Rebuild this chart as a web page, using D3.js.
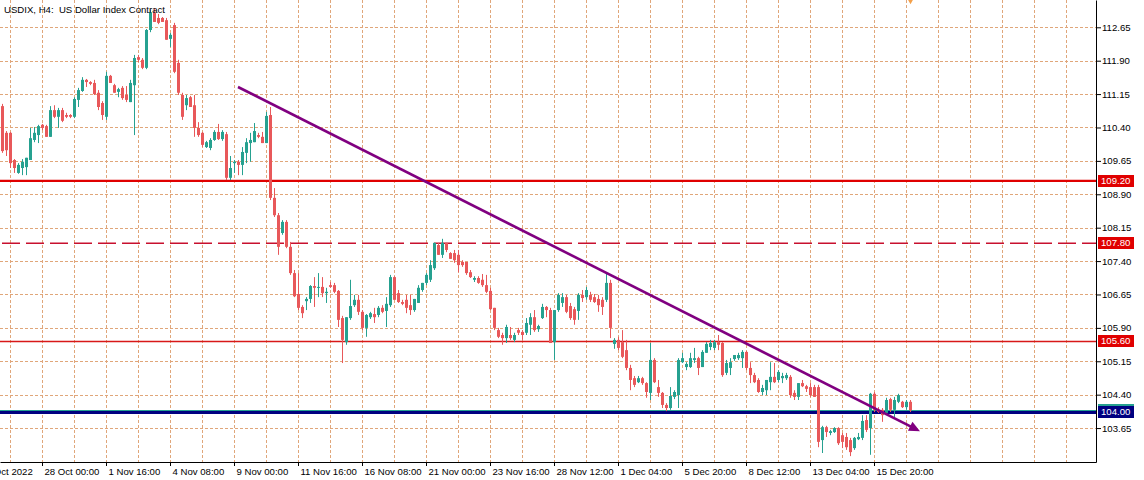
<!DOCTYPE html>
<html>
<head>
<meta charset="utf-8">
<title>USDIX H4</title>
<script src="https://d3js.org/d3.v7.min.js"></script>
<style>
  body { margin: 0; background: #fff; }
  svg { display: block; font-family: "Liberation Sans", Arial, sans-serif; font-size: 9.6px; }
</style>
</head>
<body>
<svg width="1144" height="480"></svg>
<script>
// H4 bars, [open, high, low, close], oldest first
const ohlc = [
  [110.88,110.93,109.83,109.87],[110.28,110.32,109.76,109.89],[110.28,110.30,109.49,109.60],[109.67,109.69,109.38,109.49],
  [109.38,109.60,109.36,109.56],[109.49,109.69,109.33,109.63],[109.51,109.72,109.33,109.72],[109.67,110.39,109.67,110.16],
  [110.12,110.41,110.07,110.28],[110.23,110.46,110.05,110.43],[110.46,110.48,110.34,110.39],[110.43,110.46,110.19,110.19],
  [110.19,110.88,110.19,110.79],[110.79,110.90,110.61,110.64],[110.64,110.84,110.39,110.79],[110.79,110.84,110.52,110.55],
  [110.68,110.73,110.61,110.64],[110.68,110.70,110.61,110.64],[110.64,111.08,110.61,111.04],[111.02,111.29,110.86,111.24],
  [111.22,111.53,111.20,111.47],[111.47,111.49,111.31,111.42],[111.42,111.44,111.35,111.38],[111.40,111.47,111.13,111.15],
  [111.18,111.24,110.79,110.86],[110.95,110.99,110.57,110.68],[110.64,111.65,110.57,111.56],[111.56,111.58,111.40,111.40],
  [111.35,111.38,111.18,111.18],[111.20,111.29,111.08,111.26],[111.29,111.33,111.02,111.06],[111.13,111.33,110.97,111.02],
  [110.97,111.47,110.97,111.40],[111.35,112.03,110.23,111.96],[111.98,112.03,111.87,111.92],[111.92,111.96,111.71,111.74],
  [111.74,112.61,111.71,112.59],[112.59,113.04,112.54,112.99],[112.97,113.08,112.77,112.77],[112.86,112.95,112.72,112.75],
  [112.86,112.88,112.77,112.77],[112.81,112.86,112.37,112.37],[112.39,112.52,112.21,112.48],[112.70,112.75,111.62,111.65],
  [111.85,111.92,111.13,111.18],[111.13,111.18,110.57,110.64],[110.90,111.13,110.79,111.06],[111.08,111.11,110.86,110.86],
  [110.90,111.13,110.19,110.39],[110.39,110.52,110.19,110.23],[110.28,110.30,109.96,110.01],[109.96,110.10,109.94,110.07],
  [109.94,110.16,109.89,110.12],[110.12,110.34,110.10,110.30],[110.30,110.48,110.12,110.14],[110.14,110.34,110.10,110.30],
  [110.25,110.30,109.22,109.27],[109.27,109.76,109.22,109.49],[109.60,109.67,109.38,109.63],[109.63,109.67,109.33,109.56],
  [109.56,109.96,109.33,109.85],[109.83,110.16,109.60,110.07],[110.05,110.28,109.63,110.12],[110.07,110.50,110.07,110.32],
  [110.23,110.28,110.16,110.19],[110.19,110.30,110.05,110.05],[110.05,110.75,110.05,110.66],[110.68,110.86,108.77,108.82],
  [108.82,109.04,108.39,108.43],[108.43,108.48,107.54,107.72],[108.03,108.32,107.99,108.28],[108.28,108.32,107.69,107.72],
  [107.72,107.83,107.09,107.13],[107.13,107.20,106.59,106.61],[106.66,107.13,106.30,106.35],[106.37,106.41,106.12,106.23],
  [106.50,106.59,106.30,106.55],[106.55,106.86,106.46,106.84],[106.84,107.04,106.37,106.80],[106.80,107.13,106.59,106.82],
  [106.82,107.04,106.59,106.68],[106.68,106.80,106.46,106.71],[106.86,106.93,106.80,106.82],[106.86,106.91,106.68,106.71],
  [106.73,106.75,105.92,106.08],[106.12,106.17,105.11,105.63],[105.58,106.14,105.52,106.14],[106.12,106.98,106.08,106.39],
  [106.41,106.64,106.37,106.53],[106.53,106.64,106.19,106.26],[106.26,106.30,105.85,105.90],[105.90,106.21,105.70,106.19],
  [106.14,106.26,106.10,106.23],[106.21,106.35,106.01,106.14],[106.19,106.39,106.14,106.35],[106.35,106.41,106.23,106.26],
  [106.28,106.59,105.92,106.44],[106.41,107.09,106.37,107.04],[107.04,107.06,106.53,106.53],[106.68,106.75,106.46,106.48],
  [106.48,106.53,106.41,106.44],[106.53,106.64,106.23,106.35],[106.41,106.64,106.19,106.30],[106.30,106.55,106.26,106.55],
  [106.46,106.86,106.46,106.80],[106.75,106.91,106.71,106.91],[106.91,107.13,106.86,107.09],[106.98,107.42,106.93,107.31],
  [107.24,107.81,107.20,107.81],[107.76,107.81,107.54,107.54],[107.54,107.90,107.47,107.81],[107.81,107.81,107.60,107.65],
  [107.58,107.60,107.45,107.45],[107.58,107.65,107.36,107.42],[107.54,107.65,107.15,107.31],[107.38,107.42,107.27,107.31],
  [107.38,107.38,107.09,107.13],[107.15,107.20,107.02,107.04],[106.98,107.06,106.93,107.02],[107.02,107.06,106.89,106.91],
  [106.98,107.11,106.82,106.86],[106.86,107.09,106.68,106.71],[106.73,106.80,106.30,106.32],[106.35,106.35,105.85,105.90],
  [105.85,105.90,105.67,105.70],[105.74,105.79,105.52,105.67],[105.67,105.97,105.56,105.92],[105.74,105.92,105.63,105.67],
  [105.63,105.79,105.58,105.74],[105.85,105.90,105.74,105.79],[105.81,105.85,105.63,105.74],[105.79,106.12,105.74,106.01],
  [105.97,106.23,105.74,106.14],[106.14,106.30,105.81,105.85],[105.87,105.97,105.81,105.94],[106.12,106.44,106.10,106.37],
  [106.37,106.39,106.14,106.30],[106.30,106.35,105.56,105.56],[105.58,106.30,105.18,106.30],[106.30,106.68,106.26,106.64],
  [106.46,106.68,106.37,106.59],[106.59,106.64,106.23,106.26],[106.39,106.46,106.08,106.12],[106.32,106.37,105.97,106.08],
  [106.28,106.68,106.08,106.64],[106.64,106.75,106.48,106.57],[106.59,106.82,106.53,106.75],[106.64,106.71,106.48,106.53],
  [106.59,106.66,106.46,106.48],[106.55,106.64,106.26,106.41],[106.53,106.59,106.19,106.37],[106.53,107.15,106.48,106.91],
  [106.91,106.98,105.67,105.90],[105.54,105.67,105.43,105.63],[105.63,105.70,105.40,105.45],[105.58,105.85,105.22,105.25],
  [105.40,105.63,104.95,105.00],[105.00,105.07,104.50,104.73],[104.77,104.82,104.57,104.62],[104.68,104.82,104.66,104.77],
  [104.77,104.80,104.62,104.66],[104.66,104.68,104.33,104.46],[104.44,105.56,104.28,105.18],[105.18,105.22,104.66,104.68],
  [104.57,104.73,104.35,104.44],[104.44,104.46,104.10,104.17],[104.17,104.21,104.03,104.10],[104.10,104.57,104.06,104.37],
  [104.35,104.50,104.30,104.46],[104.39,105.22,104.10,105.18],[105.13,105.34,105.11,105.22],[105.02,105.13,104.95,105.09],
  [105.02,105.34,105.00,105.22],[105.18,105.45,105.11,105.22],[105.22,105.25,104.84,105.00],[105.02,105.40,105.02,105.36],
  [105.34,105.58,105.34,105.54],[105.47,105.63,105.40,105.56],[105.45,105.63,105.40,105.58],[105.58,105.74,105.40,105.52],
  [105.56,105.58,104.80,104.84],[104.89,105.18,104.84,105.11],[105.00,105.22,104.84,105.13],[105.20,105.29,105.16,105.29],
  [105.22,105.34,105.18,105.29],[105.22,105.40,105.00,105.36],[105.36,105.38,104.95,105.00],[105.00,105.13,104.66,104.84],
  [104.84,104.89,104.66,104.68],[104.73,104.77,104.44,104.46],[104.46,104.62,104.39,104.55],[104.50,104.73,104.39,104.73],
  [104.68,105.13,104.50,104.80],[104.80,105.11,104.66,104.68],[104.73,104.95,104.68,104.91],[104.77,104.89,104.66,104.82],
  [104.77,104.89,104.73,104.84],[104.80,104.84,104.33,104.39],[104.44,104.50,104.28,104.35],[104.35,104.66,104.28,104.66],
  [104.66,104.73,104.57,104.59],[104.59,104.62,104.46,104.53],[104.57,104.66,104.35,104.39],[104.57,104.62,104.35,104.35],
  [104.57,104.62,103.22,103.34],[103.38,103.70,103.09,103.67],[103.67,103.70,103.45,103.56],[103.54,103.61,103.49,103.58],
  [103.56,103.67,103.54,103.65],[103.65,103.67,103.27,103.31],[103.49,103.54,103.20,103.34],[103.45,103.54,103.16,103.22],
  [103.38,103.43,103.02,103.11],[103.20,103.45,103.16,103.43],[103.40,103.54,103.38,103.45],[103.43,103.94,103.38,103.81],
  [103.83,103.94,103.56,103.61],[103.65,104.44,103.05,104.42],[104.42,104.46,104.01,104.06],[104.06,104.12,103.99,104.01],
  [104.06,104.10,103.79,103.94],[103.99,104.33,103.94,104.28],[104.30,104.33,104.01,104.06],[104.06,104.35,103.88,104.28],
  [104.24,104.42,104.21,104.39],[104.24,104.26,104.10,104.12],[104.12,104.28,104.06,104.24],[104.24,104.28,104.01,104.05]
];

const priceTicks = [112.65, 111.90, 111.15, 110.40, 109.65, 108.90, 108.15, 107.40, 106.65, 105.90, 105.15, 104.40, 103.65];
const timeLabels = ["27 Oct 2022", "28 Oct 00:00", "1 Nov 16:00", "4 Nov 08:00", "9 Nov 00:00", "11 Nov 16:00",
  "16 Nov 08:00", "21 Nov 00:00", "23 Nov 16:00", "28 Nov 12:00", "1 Dec 04:00", "5 Dec 20:00",
  "8 Dec 12:00", "13 Dec 04:00", "15 Dec 20:00"];
const timeLabelBars = [-6, 10, 26, 42, 58, 74, 90, 106, 122, 138, 154, 170, 186, 202, 218];

const resistanceLevels = [109.20, 107.80, 105.60];
const supportLevel = 104.00;
const bidPrice = 104.05;
const trendPoints = [[59, 111.31], [229.5, 103.58]]; // [bar, price]
const signalBar = 227;

const svg = d3.select("svg");
const W = 1096, H = 462;

const x = d3.scaleLinear().domain([-0.5, 273.5]).range([0, W]);
const y = d3.scaleLinear().domain([102.888, 113.263]).range([H, 0]);

const up = "#26a190", down = "#e8585a", grid = "#e0a67a", red = "#e00000";

svg.append("defs").append("clipPath").attr("id", "plot")
   .append("rect").attr("width", W).attr("height", H);

const plot = svg.append("g").attr("clip-path", "url(#plot)");

// grid
plot.append("g").selectAll("line")
    .data(priceTicks)
    .join("line")
    .attr("x1", 0).attr("x2", W)
    .attr("y1", d => Math.round(y(d)) + 0.5).attr("y2", d => Math.round(y(d)) + 0.5)
    .attr("stroke", grid).attr("stroke-dasharray", "3,2");

plot.append("g").selectAll("line")
    .data(d3.range(2, 274, 8))
    .join("line")
    .attr("x1", d => x(d) + 0.5).attr("x2", d => x(d) + 0.5)
    .attr("y1", 0).attr("y2", H)
    .attr("stroke", grid).attr("stroke-dasharray", "3,2");

// horizontal levels
const lvl = plot.append("g");
lvl.append("line")
   .attr("x1", 0).attr("x2", W)
   .attr("y1", y(resistanceLevels[0])).attr("y2", y(resistanceLevels[0]))
   .attr("stroke", red).attr("stroke-width", 2.2);
lvl.append("line")
   .attr("x1", 2).attr("x2", W)
   .attr("y1", y(resistanceLevels[1])).attr("y2", y(resistanceLevels[1]))
   .attr("stroke", "#c8102e").attr("stroke-width", 1.5).attr("stroke-dasharray", "18,6");
lvl.append("line")
   .attr("x1", 0).attr("x2", W)
   .attr("y1", Math.round(y(resistanceLevels[2])) + 0.5).attr("y2", Math.round(y(resistanceLevels[2])) + 0.5)
   .attr("stroke", "#d81818").attr("stroke-width", 1.4);
lvl.append("line")
   .attr("x1", 0).attr("x2", W)
   .attr("y1", Math.round(y(bidPrice)) + 0.5).attr("y2", Math.round(y(bidPrice)) + 0.5)
   .attr("stroke", up).attr("stroke-width", 1);
lvl.append("line")
   .attr("x1", 0).attr("x2", W)
   .attr("y1", y(supportLevel)).attr("y2", y(supportLevel))
   .attr("stroke", "#000080").attr("stroke-width", 3);

// candles
const bars = plot.append("g").selectAll("g")
    .data(ohlc)
    .join("g")
    .attr("fill", d => d[3] >= d[0] ? up : down)
    .attr("stroke", d => d[3] >= d[0] ? up : down);

bars.append("line")
    .attr("x1", (d, i) => x(i) + 0.5).attr("x2", (d, i) => x(i) + 0.5)
    .attr("y1", d => y(d[1])).attr("y2", d => y(d[2]));

bars.append("rect")
    .attr("stroke", "none")
    .attr("x", (d, i) => x(i) - 1)
    .attr("width", 3)
    .attr("y", d => y(Math.max(d[0], d[3])))
    .attr("height", d => Math.max(1, Math.abs(y(d[0]) - y(d[3]))));

// trend line with arrow
const [p0, p1] = trendPoints.map(p => [x(p[0]), y(p[1])]);
const ang = Math.atan2(p1[1] - p0[1], p1[0] - p0[0]);
const base = [p1[0] - 11 * Math.cos(ang), p1[1] - 11 * Math.sin(ang)];
plot.append("line")
    .attr("x1", p0[0]).attr("y1", p0[1]).attr("x2", base[0] + 2 * Math.cos(ang)).attr("y2", base[1] + 2 * Math.sin(ang))
    .attr("stroke", "#800080").attr("stroke-width", 2.6);
plot.append("path")
    .attr("d", `M${p1[0]},${p1[1]}L${base[0] + 5 * Math.sin(ang)},${base[1] - 5 * Math.cos(ang)}L${base[0] - 5 * Math.sin(ang)},${base[1] + 5 * Math.cos(ang)}Z`)
    .attr("fill", "#800080");

// signal marker at top
plot.append("path")
    .attr("d", d3.symbol().type(d3.symbolDiamond).size(45))
    .attr("transform", `translate(${x(signalBar) + 0.5},${y(113.31)})`)
    .attr("fill", "#f4a04a");

// axes
const yAxis = svg.append("g")
    .attr("transform", `translate(${W},0)`)
    .call(d3.axisRight(y).tickValues(priceTicks).tickSize(5).tickSizeOuter(0).tickFormat(d3.format(".2f")));
yAxis.attr("font-family", null).attr("font-size", null);
yAxis.selectAll("text").attr("x", 6).attr("fill", "#000");

const xAxis = svg.append("g")
    .attr("transform", `translate(0,${H})`)
    .call(d3.axisBottom(x).tickValues(timeLabelBars).tickSize(4).tickSizeOuter(0).tickFormat((d, i) => timeLabels[i]));
xAxis.attr("font-family", null).attr("font-size", null);
xAxis.selectAll("text").attr("text-anchor", "start").attr("dx", 2).attr("y", 6).attr("fill", "#000");

// price tags on the right scale
const tags = [
  { p: resistanceLevels[0], c: red },
  { p: resistanceLevels[1], c: red },
  { p: resistanceLevels[2], c: red },
  { p: bidPrice, c: up },
  { p: supportLevel, c: "#000080" }
];
const tag = svg.append("g").selectAll("g").data(tags).join("g")
    .attr("transform", d => `translate(${W + 2},${Math.round(y(d.p))})`);
tag.append("rect").attr("y", -6).attr("width", 36).attr("height", 12).attr("fill", d => d.c);
tag.append("text").attr("x", 3).attr("dy", "0.35em").attr("fill", "#fff")
   .text(d => d3.format(".2f")(d.p));

// title
svg.append("text")
   .attr("x", 4).attr("y", 13)
   .style("white-space", "pre")
   .text("USDIX, H4:  US Dollar Index Contract");
</script>
</body>
</html>
